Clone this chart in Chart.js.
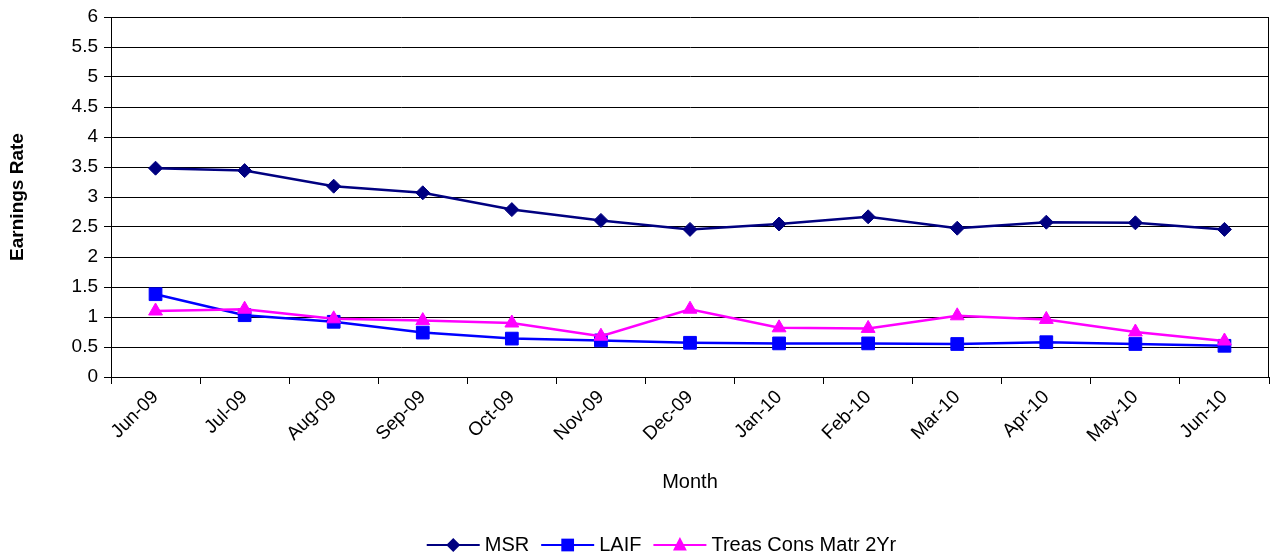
<!DOCTYPE html>
<html>
<head>
<meta charset="utf-8">
<script src="https://cdn.jsdelivr.net/npm/chart.js@4"></script>
<style>
  html, body { margin: 0; padding: 0; background: #ffffff; overflow: hidden; }
  #wrap { width: 1273px; height: 556px; }
  canvas { display: block; }
</style>
</head>
<body>
<div id="wrap"><canvas id="c" width="1273" height="556"></canvas></div>
<script>
// Monthly earnings rates
const months = ['Jun-09','Jul-09','Aug-09','Sep-09','Oct-09','Nov-09','Dec-09','Jan-10','Feb-10','Mar-10','Apr-10','May-10','Jun-10'];
const msrRates   = [3.48, 3.44, 3.18, 3.07, 2.79, 2.61, 2.46, 2.55, 2.67, 2.48, 2.58, 2.57, 2.46];
const laifRates  = [1.38, 1.03, 0.92, 0.74, 0.64, 0.61, 0.57, 0.56, 0.56, 0.55, 0.58, 0.55, 0.52];
const treasRates = [1.10, 1.13, 0.97, 0.94, 0.90, 0.68, 1.13, 0.82, 0.81, 1.02, 0.96, 0.75, 0.60];
const seriesNames = ['MSR', 'LAIF', 'Treas Cons Matr 2Yr'];
const yTitle = 'Earnings Rate';
const xTitle = 'Month';

const FONT = 'Liberation Sans, Arial, sans-serif';
const FS = 19;
const LEGEND_FS = 20;
Chart.defaults.font.family = FONT;
Chart.defaults.font.size = FS;
Chart.defaults.color = '#000000';

// frame line on the right edge of the plot area
const frameRight = {
  id: 'frameRight',
  afterDraw(chart) {
    const a = chart.chartArea, ctx = chart.ctx;
    ctx.save();
    ctx.strokeStyle = '#000000';
    ctx.lineWidth = 1;
    const x = Math.round(a.right) - 0.5;
    ctx.beginPath();
    ctx.moveTo(x, a.top);
    ctx.lineTo(x, a.bottom);
    ctx.stroke();
    ctx.restore();
  }
};

// legend: a short line with the series marker through it, then the name
function drawMarker(ctx, style, x, y, r) {
  ctx.beginPath();
  if (style === 'rectRot') {
    ctx.moveTo(x, y - r); ctx.lineTo(x + r, y); ctx.lineTo(x, y + r); ctx.lineTo(x - r, y);
  } else if (style === 'rect') {
    const s = r * Math.SQRT1_2;
    ctx.rect(x - s, y - s, 2 * s, 2 * s);
  } else if (style === 'triangle') {
    ctx.moveTo(x, y - r);
    ctx.lineTo(x + r * Math.sin(Math.PI / 3), y + r / 2 + 1.5);
    ctx.lineTo(x - r * Math.sin(Math.PI / 3), y + r / 2 + 1.5);
  }
  ctx.closePath();
  ctx.fill();
}
const lineLegend = {
  id: 'lineLegend',
  afterDraw(chart) {
    const ctx = chart.ctx;
    const lineLen = 53, gapText = 5, gapItem = 12;
    ctx.save();
    ctx.font = LEGEND_FS + 'px ' + FONT;
    ctx.textBaseline = 'middle';
    const items = chart.data.datasets.map(ds => ({ ds, w: ctx.measureText(ds.label).width }));
    const total = items.reduce((s, it) => s + lineLen + gapText + it.w, 0) + gapItem * (items.length - 1);
    let x = chart.width / 2 + 25 - total / 2;
    const y = 545;
    items.forEach(it => {
      const ds = it.ds;
      ctx.strokeStyle = ds.borderColor;
      ctx.lineWidth = 2;
      ctx.beginPath();
      ctx.moveTo(x, y); ctx.lineTo(x + lineLen, y);
      ctx.stroke();
      ctx.fillStyle = ds.pointBackgroundColor;
      drawMarker(ctx, ds.pointStyle, x + lineLen / 2, y, ds.pointRadius);
      ctx.fillStyle = '#000000';
      ctx.textAlign = 'left';
      ctx.fillText(ds.label, x + lineLen + gapText, y);
      x += lineLen + gapText + it.w + gapItem;
    });
    ctx.restore();
  }
};

const noPad = () => ({ left: 0, top: 0, right: 0, bottom: 0 });

new Chart(document.getElementById('c'), {
  type: 'line',
  data: {
    labels: months,
    datasets: [
      { label: seriesNames[0], data: msrRates, borderColor: '#000080', backgroundColor: '#000080',
        pointBackgroundColor: '#000080', pointBorderColor: '#000080', pointStyle: 'rectRot',
        pointRadius: 7, pointBorderWidth: 1, borderWidth: 2.5, tension: 0, order: 1 },
      { label: seriesNames[1], data: laifRates, borderColor: '#0000FF', backgroundColor: '#0000FF',
        pointBackgroundColor: '#0000FF', pointBorderColor: '#0000FF', pointStyle: 'rect',
        pointRadius: 9, pointBorderWidth: 1, borderWidth: 2.5, tension: 0, order: 2 },
      { label: seriesNames[2], data: treasRates, borderColor: '#FF00FF', backgroundColor: '#FF00FF',
        pointBackgroundColor: '#FF00FF', pointBorderColor: '#FF00FF', pointStyle: 'triangle',
        pointRadius: 8, pointBorderWidth: 1, borderWidth: 2.5, tension: 0, order: 0 }
    ]
  },
  options: {
    responsive: false,
    animation: false,
    layout: { autoPadding: false, padding: { left: 0, right: 4, top: 17, bottom: 58 } },
    plugins: { legend: { display: false }, tooltip: { enabled: false } },
    scales: {
      x: {
        type: 'category',
        offset: true,
        grid: { display: true, drawOnChartArea: false, drawTicks: true, tickLength: 7, color: '#000000', offset: true },
        border: { display: true, color: '#000000', width: 1 },
        ticks: { minRotation: 45, maxRotation: 45, autoSkip: false, padding: 2, color: '#000000', font: { size: FS } },
        title: { display: true, text: xTitle, color: '#000000', font: { size: LEGEND_FS }, padding: { top: 4, bottom: 4 } },
        afterFit(scale) { scale.height = 121; scale.getPadding = noPad; }
      },
      y: {
        min: 0, max: 6,
        grid: { color: '#000000', lineWidth: 1, tickLength: 7, drawTicks: true },
        border: { display: true, color: '#000000', width: 1 },
        ticks: {
          stepSize: 0.5, padding: 6, color: '#000000', font: { size: FS },
          callback: v => String(Number(v.toFixed(2)))
        },
        title: { display: true, text: yTitle, color: '#000000', font: { size: FS, weight: 'bold' }, padding: { top: 6, bottom: 4 } },
        afterFit(scale) { scale.width = 111; scale.getPadding = noPad; }
      }
    }
  },
  plugins: [frameRight, lineLegend]
});
</script>
</body>
</html>
